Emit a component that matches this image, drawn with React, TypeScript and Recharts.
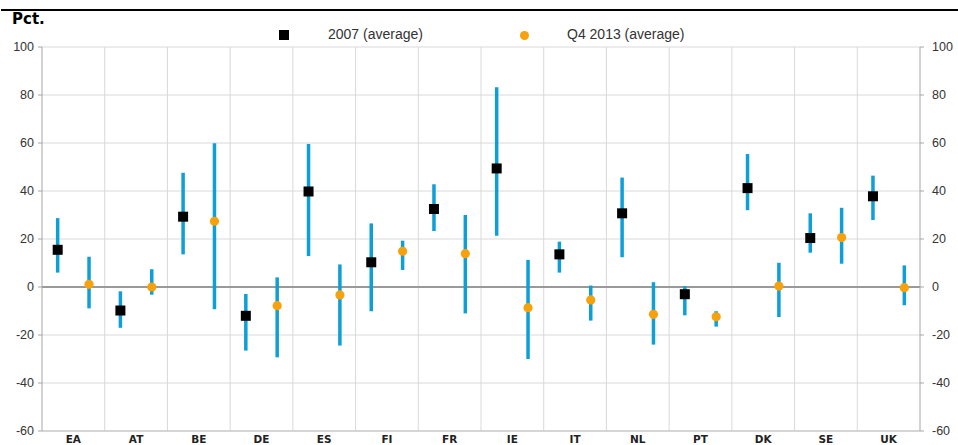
import React from 'react';
import {
  ComposedChart, Scatter, XAxis, YAxis, CartesianGrid, ReferenceLine, ErrorBar,
} from 'recharts';

const categories = ['EA', 'AT', 'BE', 'DE', 'ES', 'FI', 'FR', 'IE', 'IT', 'NL', 'PT', 'DK', 'SE', 'UK'];
const seriesNames = ['2007 (average)', 'Q4 2013 (average)'];
const avg2007 = [15.5, -9.8, 29.3, -12, 39.8, 10.3, 32.5, 49.4, 13.6, 30.7, -3, 41.2, 20.4, 37.8];
const low2007 = [6, -17, 13.6, -26.5, 12.9, -10.1, 23.3, 21.4, 6, 12.4, -11.8, 32, 14.3, 27.9];
const high2007 = [28.7, -1.8, 47.6, -2.9, 59.6, 26.5, 42.8, 83.2, 18.9, 45.6, 0.3, 55.4, 30.7, 46.4];
const avg2013 = [1.1, 0, 27.4, -7.8, -3.3, 14.9, 13.9, -8.6, -5.4, -11.4, -12.4, 0.4, 20.6, -0.3];
const low2013 = [-8.9, -3.2, -9.3, -29.3, -24.4, 7.1, -11, -30, -14, -24, -16.5, -12.5, 9.7, -7.6];
const high2013 = [12.6, 7.4, 59.9, 4, 9.4, 19.3, 30, 11.3, 0.6, 2, -10.1, 10.1, 33, 9];
const yTicks = [-60, -40, -20, 0, 20, 40, 60, 80, 100];

const BLUE = '#0d9fd6';
const ORANGE = '#f7a10c';

const data2007 = categories.map((c, i) => ({
  x: 2 * i + 0.5, v: avg2007[i], err: [avg2007[i] - low2007[i], high2007[i] - avg2007[i]],
}));
const data2013 = categories.map((c, i) => ({
  x: 2 * i + 1.5, v: avg2013[i], err: [avg2013[i] - low2013[i], high2013[i] - avg2013[i]],
}));
const catTicks = categories.map((c, i) => 2 * i + 1);
const boundaries = categories.slice(1).map((c, i) => 2 * (i + 1));

const Square = (p: any) => (
  <rect x={p.cx - 5} y={p.cy - 5} width={10} height={10} fill="#000" />
);
const Dot = (p: any) => <circle cx={p.cx} cy={p.cy} r={4.6} fill={ORANGE} />;
const Empty = () => <g />;

const tickStyle = { fill: '#333', fontSize: 12.5, fontFamily: 'Liberation Sans, Arial, sans-serif' };

export default function App() {
  return (
    <div style={{ position: 'absolute', left: 0, top: 0, width: 958, height: 445, background: '#fff', fontFamily: 'Liberation Sans, Arial, sans-serif' }}>
      <div style={{ position: 'absolute', left: 1, top: 9, width: 957, height: 2, background: '#000' }} />
      <div style={{ position: 'absolute', left: 12, top: 10, fontSize: 15, fontWeight: 'bold', color: '#000', fontFamily: 'DejaVu Sans, Verdana, sans-serif' }}>Pct.</div>
      <div style={{ position: 'absolute', left: 279, top: 30, width: 10, height: 10, background: '#000' }} />
      <div style={{ position: 'absolute', left: 328, top: 26, fontSize: 14, color: '#333' }}>{seriesNames[0]}</div>
      <div style={{ position: 'absolute', left: 520, top: 30.5, width: 9, height: 9, borderRadius: '50%', background: ORANGE }} />
      <div style={{ position: 'absolute', left: 567, top: 26, fontSize: 14, color: '#333' }}>{seriesNames[1]}</div>
      <ComposedChart width={958} height={445} margin={{ top: 47, right: 0, left: 0, bottom: 0 }}>
        <CartesianGrid vertical={false} stroke="#d9d9d9" yAxisId="left" />
        <XAxis
          type="number" dataKey="x" domain={[0, 28]} ticks={catTicks}
          tickFormatter={(t: number) => categories[(t - 1) / 2]}
          tick={{ fill: '#222', fontSize: 10.5, fontWeight: 'bold', fontFamily: 'DejaVu Sans, Verdana, sans-serif' }}
          tickLine={false} tickSize={0} tickMargin={5} height={14}
          axisLine={{ stroke: '#bfbfbf' }} interval={0} allowDataOverflow
        />
        <YAxis
          yAxisId="left" type="number" dataKey="v" domain={[-60, 100]} ticks={yTicks} width={42}
          tick={tickStyle} tickSize={4} tickMargin={4}
          axisLine={{ stroke: '#a6a6a6' }} tickLine={{ stroke: '#a6a6a6' }} interval={0} allowDataOverflow
        />
        <YAxis
          yAxisId="right" orientation="right" type="number" domain={[-60, 100]} ticks={yTicks} width={38}
          tick={{ ...tickStyle, textAnchor: 'start' }} tickSize={4} tickMargin={8}
          axisLine={{ stroke: '#a6a6a6' }} tickLine={{ stroke: '#a6a6a6' }} interval={0} allowDataOverflow
        />
        {boundaries.map((b) => (
          <ReferenceLine key={b} x={b} yAxisId="left" stroke="#d9d9d9" />
        ))}
        <ReferenceLine y={0} yAxisId="left" stroke="#999" strokeWidth={2} />
        <Scatter yAxisId="left" data={data2007} shape={Empty} legendType="none" isAnimationActive={false}>
          <ErrorBar dataKey="err" direction="y" width={0} stroke={BLUE} strokeWidth={3.5} isAnimationActive={false} />
        </Scatter>
        <Scatter yAxisId="left" data={data2013} shape={Empty} legendType="none" isAnimationActive={false}>
          <ErrorBar dataKey="err" direction="y" width={0} stroke={BLUE} strokeWidth={3.5} isAnimationActive={false} />
        </Scatter>
        <Scatter yAxisId="left" name={seriesNames[0]} data={data2007} shape={Square} isAnimationActive={false} />
        <Scatter yAxisId="left" name={seriesNames[1]} data={data2013} shape={Dot} isAnimationActive={false} />
      </ComposedChart>
    </div>
  );
}
